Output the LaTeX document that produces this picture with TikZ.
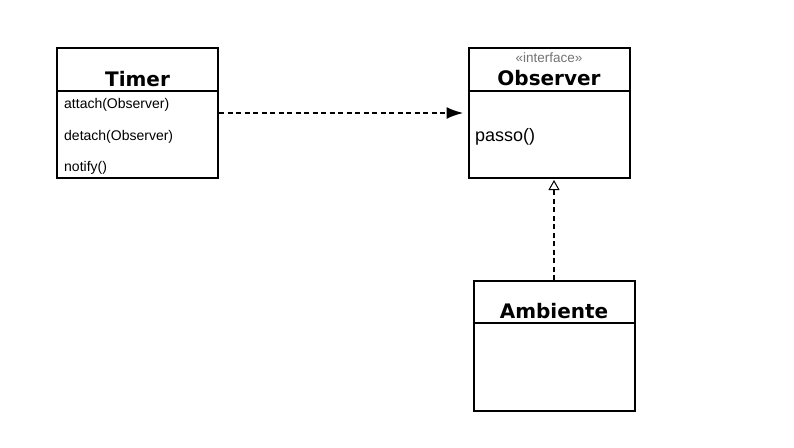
\documentclass[tikz,border=0pt]{standalone}
\usepackage{fontspec}
\setmainfont{Liberation Sans}
\newfontfamily\umltitle{DejaVu Sans}
\usetikzlibrary{arrows.meta, positioning}

\begin{document}
\begin{tikzpicture}[x=1pt, y=-1pt,
    umlbox/.style={draw, line width=2pt, minimum width=161pt, minimum height=130pt, inner sep=0pt},
    umlname/.style={font=\umltitle\bfseries\fontsize{20}{21}\selectfont, anchor=base, inner sep=0pt},
    umlop/.style={font=\fontsize{14}{15}\selectfont, anchor=base west, inner sep=0pt},
    stereo/.style={font=\fontsize{13.5}{14}\selectfont, text=black!55, anchor=base, inner sep=0pt},
    divider/.style={line width=2pt},
    depends/.style={line width=2.4pt, dash pattern=on 5pt off 3.5pt, -{Latex[length=17pt, width=12pt]}, shorten >=4pt},
    realizes/.style={line width=2.4pt, dash pattern=on 5pt off 3.5pt, -{Triangle[open, length=10pt, width=11pt, line width=1pt]}, shorten >=1pt}]
    \useasboundingbox (0,0) rectangle (794,447);
    % classes
    \node[umlbox] (timer) at (137.5,113) {};
    \node[umlbox] (observer) at (549,113) {};
    \node[umlbox] (ambiente) at (554,346) {};
    \draw[divider] (57,91) -- (218,91);
    \draw[divider] (468,91) -- (630,91);
    \draw[divider] (473,323) -- (635,323);
    % texts
    \node[umlname] (timername) at (137.5,86) {Timer};
    \node[umlop] (attach) at (64,108.5) {attach(Observer)};
    \node[umlop] (detach) at (64,140) {detach(Observer)};
    \node[umlop] (notify) at (64,171) {notify()};
    \node[stereo] (iface) at (549,62.5) {«interface»};
    \node[umlname] (observername) at (549,85) {Observer};
    \node[umlop, font=\fontsize{18}{19}\selectfont] (passo) at (475,141.5) {passo()};
    \node[umlname] (ambientename) at (554,318) {Ambiente};
    % relations
    \draw[depends] (timer.east) -- (observer.west);
    \draw[realizes] (ambiente.north) -- (ambiente.north |- observer.south);
\end{tikzpicture}
\end{document}
